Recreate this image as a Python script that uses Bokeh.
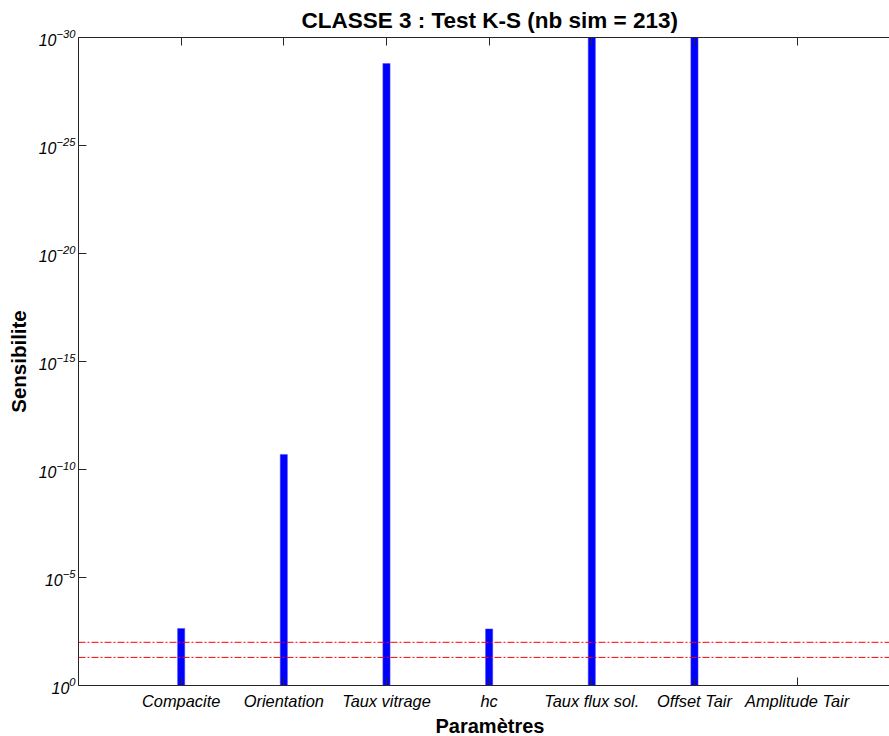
from bokeh.plotting import figure
from bokeh.models import (Range1d, FixedTicker, LinearAxis, Span, Title,
                          ColumnDataSource, CustomLabelingPolicy)
from bokeh.embed import file_html
from bokeh.resources import INLINE

# ---- data ----
categories = ["Compacite", "Orientation", "Taux vitrage", "hc",
              "Taux flux sol.", "Offset Tair", "Amplitude Tair"]
positions = [1, 2, 3, 4, 5, 6, 7]
# K-S p-values (sensitivity); bars go from 1 (=10^0) toward smaller values
pvalues = [2.3e-3, 2.0e-11, 1.6e-29, 2.4e-3, 1e-40, 1e-40, 1.0]
thresholds = [0.01, 0.05]
y_ticks = [1e0, 1e-5, 1e-10, 1e-15, 1e-20, 1e-25, 1e-30]

FONT = "Liberation Sans"
AX = "#262626"

p = figure(width=889, height=736, y_axis_type="log",
           x_range=Range1d(0, 7.9), y_range=Range1d(1e0, 1e-30),
           output_backend="svg", toolbar_location=None,
           min_border_left=78, min_border_right=0, min_border_top=0,
           min_border_bottom=50)
p.title = None
p.outline_line_color = None
p.background_fill_color = "white"
p.border_fill_color = "white"
p.grid.visible = False

src = ColumnDataSource(dict(x=positions, top=pvalues, bottom=[1.0] * len(pvalues)))
p.vbar(x="x", top="top", bottom="bottom", width=0.07, source=src,
       fill_color="#0000FF", line_color="#4a4aff", line_width=0.5)

for t in thresholds:
    p.add_layout(Span(location=t, dimension="width", line_color="#FF0000",
                      line_width=1, line_dash="7 2 2 2"))

# x axis (bottom)
xa = p.xaxis[0]
xa.ticker = FixedTicker(ticks=positions)
xa.major_label_overrides = {pos: c for pos, c in zip(positions, categories)}
xa.major_tick_in = 8
xa.major_tick_out = 0
xa.minor_tick_line_color = None
xa.major_label_text_font = FONT
xa.major_label_text_font_style = "italic"
xa.major_label_text_font_size = "16.4px"
xa.major_label_text_color = "black"
xa.major_label_standoff = 6
xa.axis_line_color = AX
xa.major_tick_line_color = AX

# y axis
ya = p.yaxis[0]
ya.ticker = FixedTicker(ticks=y_ticks)
ya.major_tick_in = 8
ya.major_tick_out = 0
ya.minor_tick_line_color = None
ya.major_label_text_font = FONT
ya.major_label_text_font_style = "italic"
ya.major_label_text_font_size = "16px"
ya.major_label_text_color = "black"
ya.major_label_standoff = 3
ya.axis_line_color = AX
ya.major_tick_line_color = AX
ya.axis_label = "Sensibilite"
ya.axis_label_text_font = FONT
ya.axis_label_text_font_style = "bold"
ya.axis_label_text_font_size = "20.5px"
ya.axis_label_text_color = "black"
ya.axis_label_standoff = 6

# top axis with inward ticks, no labels
top_axis = LinearAxis(ticker=FixedTicker(ticks=positions),
                      major_label_policy=CustomLabelingPolicy(
                          code="for (const i of [...indices.ones()]) indices.unset(i); return indices"),
                      major_label_text_font_size="0px",
                      major_tick_in=8, major_tick_out=0,
                      minor_tick_line_color=None,
                      axis_line_color=AX, major_tick_line_color=AX)
top_axis.major_label_standoff = 0
p.add_layout(top_axis, "above")

p.add_layout(Title(text="CLASSE 3 : Test K-S (nb sim = 213)", align="left",
                   offset=223, text_font=FONT, text_font_style="bold",
                   text_font_size="22.5px", text_color="black"), "above")
p.add_layout(Title(text="Paramètres", align="left", offset=357, standoff=0,
                   text_font=FONT, text_font_style="bold",
                   text_font_size="20px", text_color="black"), "below")

open("out.html", "w").write(file_html(p, INLINE))
